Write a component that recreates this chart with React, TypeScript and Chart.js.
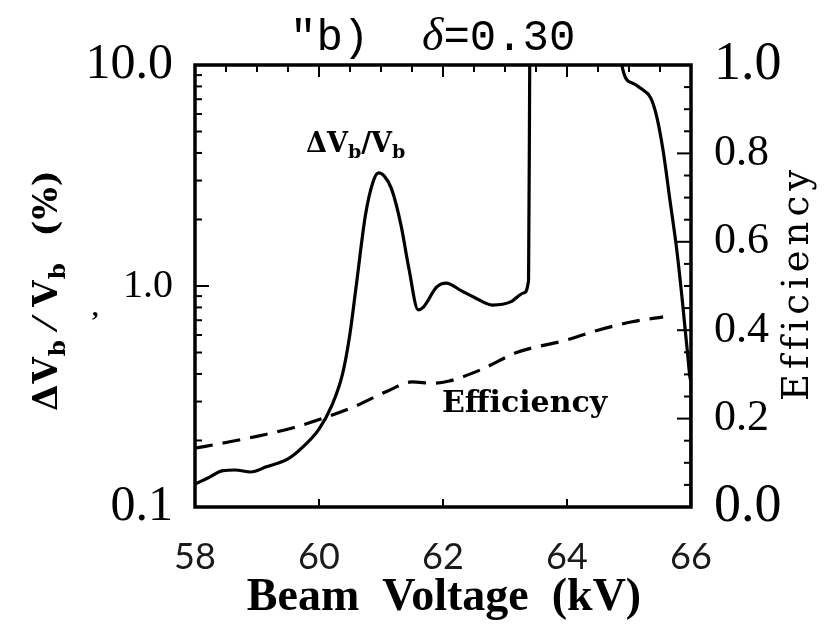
import React, { useEffect, useRef } from 'react';
import { Chart, registerables } from 'chart.js';

Chart.register(...registerables);

// ΔVb/Vb (%) curve, log scale (values above 10 are off-scale / clipped)
const voltageDv = [58.0, 58.2, 58.45, 58.65, 58.9, 59.15, 59.5, 59.75, 60.0, 60.2, 60.38, 60.5, 60.6, 60.75, 60.87, 60.96, 61.05, 61.17, 61.32, 61.45, 61.6, 61.68, 61.9, 62.05, 62.3, 62.5, 62.8, 63.1, 63.3, 63.38, 63.4, 63.42, 64.82, 64.86, 65.05, 65.2, 65.35, 65.45, 65.55, 65.66, 65.77, 65.86, 65.94, 66.0, 66.0];
const deltaV = [0.127, 0.135, 0.146, 0.147, 0.144, 0.152, 0.165, 0.188, 0.225, 0.285, 0.4, 0.61, 1.0, 2.1, 2.95, 3.25, 3.15, 2.75, 1.9, 1.2, 0.78, 0.8, 0.99, 1.03, 0.95, 0.89, 0.82, 0.85, 0.93, 1.06, 12, 40, 40, 11, 8.3, 7.8, 7.1, 5.8, 4.1, 2.45, 1.46, 0.86, 0.51, 0.37, 0.1];

// Efficiency curve, linear right axis
const voltageEff = [58.0, 58.5, 59.1, 59.6, 60.05, 60.55, 61.1, 61.5, 61.85, 62.1, 62.6, 63.2, 64.0, 64.5, 65.05, 65.55];
const efficiency = [0.133, 0.146, 0.163, 0.18, 0.2, 0.226, 0.262, 0.283, 0.28, 0.285, 0.31, 0.35, 0.378, 0.4, 0.419, 0.43];

const xTickValues = [58, 60, 62, 64, 66];
const leftTickValues = [0.1, 1, 10];
const leftTickLabels = ['0.1', '1.0', '10.0'];
const rightTickValues = [0, 0.2, 0.4, 0.6, 0.8, 1.0];
const rightTickLabels = ['0.0', '0.2', '0.4', '0.6', '0.8', '1.0'];

type Run = { t: string; font: string; dy?: number };

function runsWidth(ctx: CanvasRenderingContext2D, runs: Run[]) {
  let w = 0;
  for (const r of runs) {
    ctx.font = r.font;
    w += ctx.measureText(r.t).width;
  }
  return w;
}

function drawRuns(ctx: CanvasRenderingContext2D, runs: Run[], x: number, y: number) {
  let cx = x;
  for (const r of runs) {
    ctx.font = r.font;
    ctx.fillText(r.t, cx, y + (r.dy || 0));
    cx += ctx.measureText(r.t).width;
  }
}

const framePlugin = {
  id: 'frameTicks',
  afterDatasetsDraw(chart: any) {
    const { ctx, chartArea: a, scales } = chart;
    const xs = scales.x;
    const yl = scales.y;
    const yr = scales.y2;
    ctx.save();
    ctx.strokeStyle = '#000';
    ctx.lineWidth = 3.5;
    ctx.strokeRect(a.left, a.top, a.right - a.left, a.bottom - a.top);
    ctx.lineWidth = 2;
    const seg = (x1: number, y1: number, x2: number, y2: number) => {
      ctx.beginPath();
      ctx.moveTo(x1, y1);
      ctx.lineTo(x2, y2);
      ctx.stroke();
    };
    for (const d of [0.1, 1]) {
      for (let k = 2; k <= 9; k++) {
        const py = yl.getPixelForValue(d * k);
        seg(a.left, py, a.left + 7, py);
      }
    }
    const p1 = yl.getPixelForValue(1);
    seg(a.left, p1, a.left + 14, p1);
    for (let v = 58.5; v < 66; v += 0.5) {
      const px = xs.getPixelForValue(v);
      const len = Math.abs(v % 2) < 1e-6 ? 12 : 7;
      seg(px, a.top, px, a.top + len);
    }
    for (const v of [60, 62, 64]) {
      const px = xs.getPixelForValue(v);
      seg(px, a.bottom, px, a.bottom - 8);
    }
    for (let i = 1; i < 20; i++) {
      const py = yr.getPixelForValue(i * 0.05);
      const len = i % 4 === 0 ? 14 : 7;
      seg(a.right - len, py, a.right, py);
    }
    ctx.restore();
  },
};

const textPlugin = {
  id: 'texts',
  afterDraw(chart: any) {
    const ctx: CanvasRenderingContext2D = chart.ctx;
    ctx.save();
    ctx.fillStyle = '#000';
    ctx.textBaseline = 'alphabetic';
    ctx.textAlign = 'left';

    // Title
    const mono = '44px "Liberation Mono"';
    drawRuns(ctx, [
      { t: '"b)  ', font: mono },
      { t: 'δ', font: 'italic 46px "Liberation Serif"' },
      { t: '=0.30', font: mono },
    ], 290, 50);

    // In-plot label ΔVb/Vb
    const b27 = 'bold 27px "DejaVu Serif"';
    const s19 = 'bold 19px "DejaVu Serif"';
    drawRuns(ctx, [
      { t: 'ΔV', font: b27 },
      { t: 'b', font: s19, dy: 6 },
      { t: '/V', font: b27 },
      { t: 'b', font: s19, dy: 6 },
    ], 306, 152);

    // In-plot label Efficiency
    ctx.font = 'bold 30px "DejaVu Serif"';
    ctx.fillText('Efficiency', 442, 412);

    // Left axis title (rotated)
    const b34 = 'bold 34px "DejaVu Serif"';
    const s22 = 'bold 23px "DejaVu Serif"';
    const leftRuns: Run[] = [
      { t: 'ΔV', font: b34 },
      { t: 'b', font: s22, dy: 8 },
      { t: ' ⁄ ', font: b34 },
      { t: 'V', font: b34 },
      { t: 'b', font: s22, dy: 8 },
      { t: '  (%)', font: b34 },
    ];
    ctx.save();
    ctx.translate(57, 290);
    ctx.rotate(-Math.PI / 2);
    (ctx as any).letterSpacing = '1px';
    const lw = runsWidth(ctx, leftRuns);
    drawRuns(ctx, leftRuns, -lw / 2, 0);
    ctx.restore();

    // stray comma
    ctx.font = 'bold 26px "Liberation Serif"';
    ctx.fillText(',', 92, 316);

    // Right axis title (rotated)
    ctx.save();
    ctx.translate(808, 283);
    ctx.rotate(-Math.PI / 2);
    ctx.font = '37px "DejaVu Serif"';
    (ctx as any).letterSpacing = '5px';
    const rw = ctx.measureText('Efficiency').width;
    ctx.fillText('Efficiency', -rw / 2, 0);
    ctx.restore();

    // X axis title
    ctx.font = 'bold 46px "Liberation Serif"';
    const xt = 'Beam  Voltage  (kV)';
    const xw = ctx.measureText(xt).width;
    ctx.fillText(xt, 444 - xw / 2, 610);

    ctx.restore();
  },
};

export default function App() {
  const ref = useRef<HTMLCanvasElement | null>(null);

  useEffect(() => {
    if (!ref.current) return;
    const chart = new Chart(ref.current, {
      type: 'line',
      data: {
        datasets: [
          {
            label: 'ΔVb/Vb',
            data: voltageDv.map((x, i) => ({ x, y: deltaV[i] })),
            yAxisID: 'y',
            borderColor: '#000',
            borderWidth: 3.2,
            pointRadius: 0,
            cubicInterpolationMode: 'monotone',
            fill: false,
          },
          {
            label: 'Efficiency',
            data: voltageEff.map((x, i) => ({ x, y: efficiency[i] })),
            yAxisID: 'y2',
            borderColor: '#000',
            borderWidth: 3.2,
            borderDash: [18, 10],
            pointRadius: 0,
            cubicInterpolationMode: 'monotone',
            fill: false,
          },
        ],
      },
      options: {
        responsive: false,
        animation: false,
        layout: { padding: { top: 65, left: 0, right: 0, bottom: 0 } },
        plugins: {
          legend: { display: false },
          title: { display: false },
          tooltip: { enabled: false },
        },
        scales: {
          x: {
            type: 'linear',
            min: 58,
            max: 66,
            grid: { display: false },
            border: { display: false },
            afterBuildTicks: (s: any) => {
              s.ticks = xTickValues.map((v) => ({ value: v }));
            },
            afterFit: (s: any) => {
              s.height = 125;
            },
            ticks: {
              padding: 21,
              color: '#1a1a1a',
              font: { family: 'Lato', size: 36 },
              callback: (v: any) => String(v),
            },
          },
          y: {
            type: 'logarithmic',
            position: 'left',
            min: 0.1,
            max: 10,
            grid: { display: false },
            border: { display: false },
            afterBuildTicks: (s: any) => {
              s.ticks = leftTickValues.map((v) => ({ value: v }));
            },
            afterFit: (s: any) => {
              s.width = 195;
            },
            ticks: {
              padding: 14,
              color: '#000',
              font: (c: any) => ({
                family: '"Liberation Serif"',
                size: c.tick && c.tick.value === 1 ? 40 : 50,
              }),
              callback: (v: any) => leftTickLabels[leftTickValues.indexOf(Number(v))] ?? '',
            },
          },
          y2: {
            type: 'linear',
            position: 'right',
            min: 0,
            max: 1,
            grid: { display: false },
            border: { display: false },
            afterBuildTicks: (s: any) => {
              s.ticks = rightTickValues.map((v) => ({ value: v }));
            },
            afterFit: (s: any) => {
              s.width = 136;
            },
            ticks: {
              padding: 15,
              color: '#000',
              font: (c: any) => ({
                family: '"Liberation Serif"',
                size: c.tick && (c.tick.value === 0 || c.tick.value === 1) ? 54 : 44,
              }),
              callback: (v: any) => {
                const i = rightTickValues.findIndex((t) => Math.abs(t - Number(v)) < 1e-9);
                return i >= 0 ? rightTickLabels[i] : '';
              },
            },
          },
        },
      },
      plugins: [framePlugin, textPlugin],
    } as any);
    return () => chart.destroy();
  }, []);

  return (
    <div style={{ position: 'absolute', left: 0, top: 0, width: 827, height: 632, background: '#fff' }}>
      <canvas ref={ref} width={827} height={632} style={{ width: 827, height: 632 }} />
    </div>
  );
}
